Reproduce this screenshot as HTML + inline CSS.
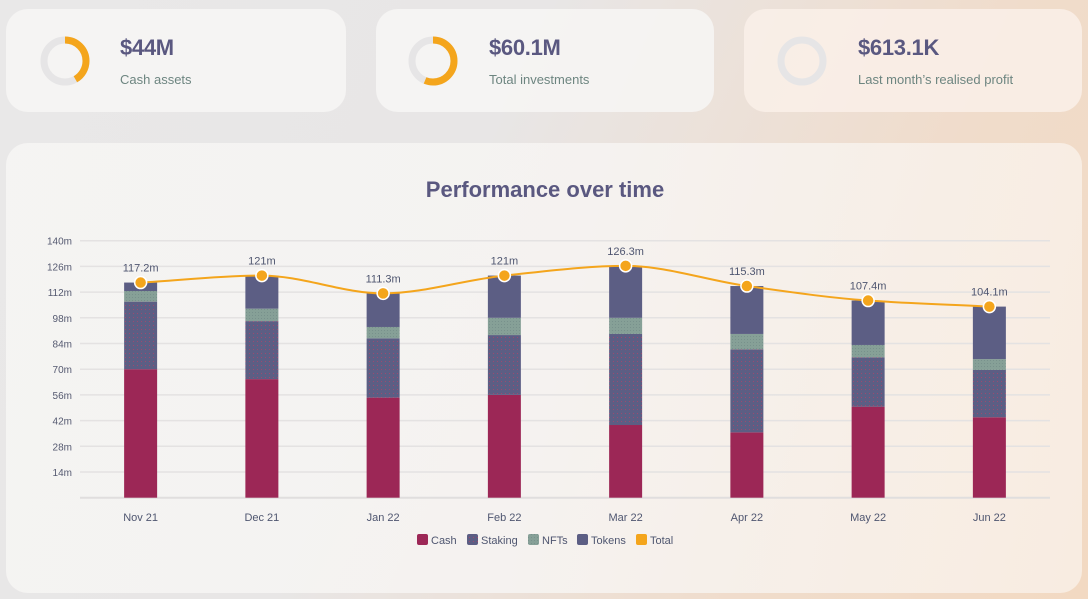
<!DOCTYPE html>
<html><head><meta charset="utf-8">
<style>
html,body{margin:0;padding:0;width:1088px;height:599px;overflow:hidden;font-family:"Liberation Sans",sans-serif;}
body{background:linear-gradient(115deg,#e9e8e8 0%,#e8e6e6 40%,#f0dccb 75%,#f2d9c2 100%);position:relative;}
.card{position:absolute;background:rgba(247,246,245,0.85);border-radius:22px;}
.val{position:absolute;font-weight:bold;font-size:22px;color:#5a5880;letter-spacing:-0.3px;}
.lbl{position:absolute;font-size:13px;color:#6d8580;}
</style></head><body>
<div class="card" style="left:6px;top:9px;width:340px;height:103px;">
 <svg style="position:absolute;left:33px;top:26px" width="52" height="52"><circle cx="26" cy="26" r="21" fill="none" stroke="#e6e5e6" stroke-width="7"/><circle cx="26" cy="26" r="21" fill="none" stroke="#f4a51c" stroke-width="7" stroke-dasharray="55 200" transform="rotate(-90 26 26)"/></svg>
 <div class="val" style="left:114px;top:26px">$44M</div>
 <div class="lbl" style="left:114px;top:63px">Cash assets</div>
</div>
<div class="card" style="left:376px;top:9px;width:338px;height:103px;">
 <svg style="position:absolute;left:31px;top:26px" width="52" height="52"><circle cx="26" cy="26" r="21" fill="none" stroke="#e6e5e6" stroke-width="7"/><circle cx="26" cy="26" r="21" fill="none" stroke="#f4a51c" stroke-width="7" stroke-dasharray="74 200" transform="rotate(-90 26 26)"/></svg>
 <div class="val" style="left:113px;top:26px">$60.1M</div>
 <div class="lbl" style="left:113px;top:63px">Total investments</div>
</div>
<div class="card" style="left:744px;top:9px;width:338px;height:103px;background:rgba(250,240,233,0.85)">
 <svg style="position:absolute;left:32px;top:26px" width="52" height="52"><circle cx="26" cy="26" r="21" fill="none" stroke="#e6e5e6" stroke-width="7"/></svg>
 <div class="val" style="left:114px;top:26px">$613.1K</div>
 <div class="lbl" style="left:114px;top:63px">Last month’s realised profit</div>
</div>
<div class="card" style="left:6px;top:143px;width:1076px;height:450px;background:linear-gradient(100deg,rgba(246,245,244,0.9) 0%,rgba(246,244,242,0.9) 50%,rgba(249,238,228,0.9) 100%)"></div>
<svg id="chart" width="1088" height="599" style="position:absolute;left:0;top:0"></svg>
<script>
const categories=["Nov 21","Dec 21","Jan 22","Feb 22","Mar 22","Apr 22","May 22","Jun 22"];
const cash=[70,64.6,54.5,56,39.6,35.6,49.6,43.8];
const staking=[36.8,31.6,32.3,32.6,49.6,45.2,26.9,25.8];
const nfts=[5.8,6.8,6.2,9.4,8.8,8.4,6.7,5.9];
const tokens=[4.6,18,18.3,23,28.3,26.1,24.2,28.6];
const totalLabels=["117.2m","121m","111.3m","121m","126.3m","115.3m","107.4m","104.1m"];
const yTicks=[14,28,42,56,70,84,98,112,126,140];

const NS="http://www.w3.org/2000/svg";
const svg=document.getElementById('chart');
const X0=80,X1=1050,Y0=497.7,Y140=240.7;
const band=(X1-X0)/categories.length;
const xC=i=>X0+band*(i+0.5);
const y=v=>Y0-(v/140)*(Y0-Y140);
function mk(t,a,p){const e=document.createElementNS(NS,t);for(const k in a)e.setAttribute(k,a[k]);(p||svg).appendChild(e);return e;}
const defs=mk('defs',{});
defs.innerHTML='<pattern id="pStk" width="4" height="4" patternUnits="userSpaceOnUse"><rect width="4" height="4" fill="#5c5e84"/><rect x="1" y="1" width="1" height="1" fill="#9c4a70"/></pattern><pattern id="pNft" width="3" height="3" patternUnits="userSpaceOnUse"><rect width="3" height="3" fill="#86a097"/><rect width="1" height="1" fill="#78918c"/></pattern>';
const title=mk('text',{x:545,y:197,'text-anchor':'middle','font-size':22,'font-weight':'bold',fill:'#5a5880'});
title.textContent='Performance over time';


yTicks.forEach(t=>{
 const g=mk('line',{x1:X0,x2:X1,y1:y(t),y2:y(t),stroke:'#e4e2e2','stroke-width':1.5});
 
 
 const l=mk('text',{x:72,y:y(t)+4,'text-anchor':'end','font-size':10,fill:'#555a70'});
 l.textContent=t+'m';
 
 
});
const ax=mk('line',{x1:X0,x2:X1,y1:Y0,y2:Y0,stroke:'#e0dede','stroke-width':2});


const BW=33;
categories.forEach((c,i)=>{
 const segs=[[cash[i],'#9c2756','cash'],[staking[i],'url(#pStk)','staking'],[nfts[i],'url(#pNft)','nfts'],[tokens[i],'#5c5e84','tokens']];
 let acc=0;
 segs.forEach(s=>{
  const r=mk('rect',{x:xC(i)-BW/2,y:y(acc+s[0]),width:BW,height:y(acc)-y(acc+s[0]),fill:s[1]});
  
  
  acc+=s[0];
 });
 const l=mk('text',{x:xC(i),y:521,'text-anchor':'middle','font-size':11,fill:'#4f5670'});
 l.textContent=c;
 
 
});
const totals=categories.map((c,i)=>cash[i]+staking[i]+nfts[i]+tokens[i]);
const px=totals.map((t,i)=>xC(i)),py=totals.map(t=>y(t));
const n=px.length,dl=[],m=[];
for(let i=0;i<n-1;i++)dl.push((py[i+1]-py[i])/(px[i+1]-px[i]));
m[0]=dl[0];m[n-1]=dl[n-2];
for(let i=1;i<n-1;i++){m[i]=(dl[i-1]*dl[i]<=0)?0:(2*dl[i-1]*dl[i])/(dl[i-1]+dl[i]);}
let d='M'+px[0]+','+py[0];
for(let i=0;i<n-1;i++){const h=(px[i+1]-px[i])/3;d+=' C'+(px[i]+h)+','+(py[i]+m[i]*h)+' '+(px[i+1]-h)+','+(py[i+1]-m[i+1]*h)+' '+px[i+1]+','+py[i+1];}
const line=mk('path',{d:d,fill:'none',stroke:'#f4a51c','stroke-width':2});


totals.forEach((t,i)=>{
 const p=mk('circle',{cx:xC(i),cy:y(t),r:6,fill:'#f4a51c',stroke:'#fff','stroke-width':1.5});
 
 
 const l=mk('text',{x:xC(i),y:y(t)-11,'text-anchor':'middle','font-size':11,fill:'#4f5670'});
 l.textContent=totalLabels[i];
 
 
});
const legend=[['Cash','#9c2756'],['Staking','url(#pStk)'],['NFTs','url(#pNft)'],['Tokens','#5c5e84'],['Total','#f4a51c']];
const lx=[417,467,528,577,636];
legend.forEach((e,i)=>{
 const g=mk('g',{});
 
 
 mk('rect',{x:lx[i],y:534,width:11,height:11,rx:2,fill:e[1]},g);
 const t=mk('text',{x:lx[i]+14,y:544,'font-size':11,fill:'#4f5670'},g);
 t.textContent=e[0];
});
</script>
</body></html>
